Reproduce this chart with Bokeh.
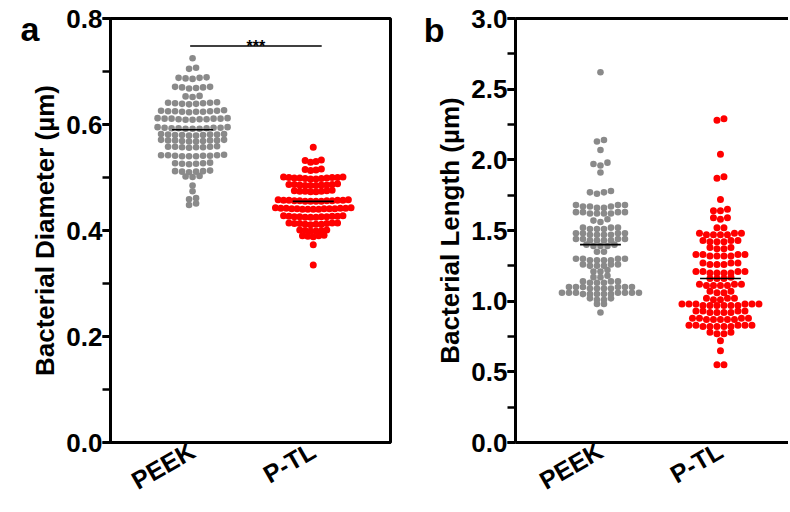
import math
from bokeh.plotting import figure
from bokeh.models import (Range1d, SingleIntervalTicker, FixedTicker, LinearAxis,
                          NumeralTickFormatter, CustomJSTickFormatter)
from bokeh.layouts import row
from bokeh.embed import file_html
from bokeh.resources import INLINE
from bokeh.core.properties import value

# ---------------- data ----------------
categories = ["PEEK", "P-TL"]
cat_pos = [1, 2]
panel_letters = ["a", "b"]

dia_peek = [
    0.725,
    0.707, 0.705,
    0.689, 0.688, 0.687, 0.686, 0.688,
    0.671, 0.670, 0.669, 0.670, 0.668, 0.671,
    0.654, 0.653, 0.652,
    0.641, 0.640, 0.639, 0.640, 0.641, 0.639, 0.638, 0.642,
    0.626, 0.625, 0.624, 0.625, 0.624, 0.626, 0.623, 0.625, 0.627, 0.624,
    0.611, 0.610, 0.611, 0.609, 0.612, 0.610, 0.611, 0.609, 0.612, 0.610, 0.611,
    0.594, 0.593, 0.592, 0.594, 0.592, 0.595, 0.593, 0.594, 0.592, 0.595, 0.593,
    0.581, 0.580, 0.581, 0.579, 0.582, 0.580, 0.581, 0.579, 0.582, 0.580,
    0.570, 0.569, 0.570, 0.571, 0.568, 0.570, 0.569, 0.571, 0.568, 0.570,
    0.558, 0.557, 0.558, 0.556, 0.559, 0.557, 0.558, 0.557,
    0.542, 0.541, 0.540, 0.542, 0.540, 0.543, 0.541, 0.542, 0.540, 0.541,
    0.527, 0.526, 0.525, 0.527, 0.526, 0.528,
    0.512, 0.511, 0.510, 0.512, 0.511, 0.513,
    0.502, 0.501, 0.503,
    0.485, 0.474, 0.461, 0.459, 0.451, 0.448,
]

dia_ptl = [
    0.557,
    0.532, 0.530, 0.529, 0.533,
    0.516, 0.514, 0.513, 0.515,
    0.500, 0.499, 0.498, 0.501, 0.499, 0.497, 0.500, 0.498, 0.499, 0.500, 0.501, 0.497,
    0.487, 0.486, 0.485, 0.487, 0.486, 0.485, 0.488, 0.486, 0.487, 0.485,
    0.475, 0.474, 0.473, 0.475, 0.474, 0.476, 0.473, 0.474,
    0.457, 0.456, 0.455, 0.457, 0.456, 0.455, 0.458, 0.456, 0.457, 0.455, 0.456, 0.457, 0.455, 0.458,
    0.442, 0.441, 0.440, 0.442, 0.441, 0.440, 0.443, 0.441, 0.442, 0.440, 0.441, 0.443, 0.440, 0.442, 0.441,
    0.427, 0.426, 0.425, 0.427, 0.426, 0.428, 0.425, 0.426, 0.427, 0.425, 0.426, 0.428,
    0.413, 0.412, 0.414, 0.413, 0.412, 0.414, 0.413, 0.411, 0.414, 0.412,
    0.400, 0.399, 0.401, 0.400, 0.399, 0.401,
    0.390, 0.389, 0.391, 0.390, 0.388,
    0.373, 0.335,
]

len_peek = [
    2.62,
    2.14, 2.13,
    2.07,
    1.97, 1.96, 1.98,
    1.91,
    1.78, 1.77, 1.76, 1.77,
    1.68, 1.67, 1.66, 1.67, 1.68, 1.66, 1.67, 1.68,
    1.63, 1.62, 1.63, 1.62, 1.63, 1.62, 1.63, 1.62,
    1.57, 1.58, 1.56,
    1.52, 1.51, 1.52, 1.51, 1.52, 1.51,
    1.47, 1.48, 1.47, 1.48, 1.47, 1.48, 1.47, 1.48,
    1.43, 1.44, 1.43, 1.44, 1.43, 1.44, 1.43, 1.44,
    1.39, 1.40, 1.39, 1.40, 1.39,
    1.35, 1.35,
    1.30, 1.29, 1.30, 1.29, 1.30, 1.29, 1.30, 1.29,
    1.26, 1.25, 1.26, 1.25, 1.26, 1.25,
    1.21, 1.22, 1.21,
    1.17, 1.18, 1.17,
    1.13, 1.14, 1.13, 1.14, 1.13, 1.14,
    1.10, 1.09, 1.10, 1.09, 1.10, 1.09, 1.10, 1.09, 1.10, 1.10,
    1.06, 1.05, 1.06, 1.05, 1.06, 1.05, 1.06, 1.05, 1.06, 1.06, 1.05, 1.06,
    1.02, 1.01, 1.02, 1.01,
    0.98, 0.98,
    0.92,
]

len_ptl = [
    2.29, 2.28,
    2.04,
    1.88, 1.87,
    1.72,
    1.65, 1.64, 1.64,
    1.59, 1.58, 1.59,
    1.52, 1.52,
    1.47, 1.48, 1.47, 1.48, 1.47, 1.48, 1.47,
    1.42, 1.43, 1.42, 1.43, 1.42, 1.43,
    1.37, 1.38, 1.37, 1.38,
    1.32, 1.33, 1.32, 1.33, 1.32, 1.33, 1.32, 1.33,
    1.26, 1.27, 1.26, 1.27, 1.26, 1.27,
    1.20, 1.21, 1.20, 1.21, 1.20, 1.21, 1.20, 1.21,
    1.16, 1.16, 1.17, 1.16,
    1.11, 1.12, 1.11, 1.12, 1.11, 1.12, 1.11,
    1.06, 1.07, 1.06, 1.07,
    1.02, 1.02, 1.01, 1.02, 1.01,
    0.97, 0.98, 0.97, 0.98, 0.97, 0.98, 0.97, 0.98, 0.97, 0.98, 0.97, 0.98,
    0.92, 0.93, 0.92, 0.93, 0.92, 0.93, 0.92, 0.93,
    0.87, 0.88, 0.87, 0.88, 0.87, 0.88, 0.87, 0.88, 0.87,
    0.82, 0.83, 0.82, 0.83, 0.82, 0.83, 0.82, 0.83, 0.82, 0.83,
    0.77, 0.78, 0.77, 0.78,
    0.72,
    0.65,
    0.55, 0.55,
]

dia_means = [0.59, 0.455]
len_means = [1.40, 1.16]
sig_text = "***"
sig_y = 0.748
sig_x = [0.98, 2.07]

FONT = "Liberation Sans"
GRAY = "#8a8a8a"
RED = "#ff0000"
H = 510
TOP = 18
BOTTOM = 68


def row_swarm(vals, gap, spacing):
    """Prism-like column scatter: values that lie within `gap` of each other
    form one row; each row is laid out side by side, centre-out.
    Returns x offsets in pixels."""
    order = sorted(range(len(vals)), key=lambda i: vals[i])
    rows, cur = [], [order[0]]
    for a, b in zip(order, order[1:]):
        if vals[b] - vals[a] > gap:
            rows.append(cur)
            cur = []
        cur.append(b)
    rows.append(cur)
    xs = [0.0] * len(vals)
    for idx in rows:
        n = len(idx)
        slots = [(k - (n - 1) / 2.0) * spacing for k in range(n)]
        slots.sort(key=lambda s: (abs(s), s))
        for i, s in zip(idx, slots):
            xs[i] = s
    return xs


def make_panel(width, border_left, border_right, xr, yr, interval, ylabel,
               groups, gap, means, letter, letter_y, closed):
    p = figure(width=width, height=H, x_range=Range1d(*xr), y_range=Range1d(*yr),
               output_backend="svg", toolbar_location=None,
               min_border_left=border_left, min_border_right=border_right,
               min_border_top=TOP, min_border_bottom=BOTTOM)
    frame_w = width - border_left - border_right
    sx = frame_w / (xr[1] - xr[0])

    for pos, (vals, color, spacing, size) in zip(cat_pos, groups):
        offs = row_swarm(vals, gap, spacing)
        xs = [pos + o / sx for o in offs]
        p.scatter(xs, vals, size=size, fill_color=color, line_color=None)

    p.segment(x0=[c - 0.17 for c in cat_pos], x1=[c + 0.17 for c in cat_pos],
              y0=means, y1=means, line_color="black", line_width=1.6)

    p.xgrid.visible = False
    p.ygrid.visible = False
    p.background_fill_color = "white"
    p.border_fill_color = "white"

    ya = p.left[0]
    ya.ticker = SingleIntervalTicker(interval=interval, num_minor_ticks=2)
    ya.formatter = NumeralTickFormatter(format="0.0")
    ya.axis_label = ylabel
    ya.axis_label_text_font = FONT
    ya.axis_label_text_font_style = "bold"
    ya.axis_label_text_font_size = "26px"
    ya.axis_label_text_color = "black"
    ya.axis_label_standoff = 3
    ya.major_label_text_font = FONT
    ya.major_label_text_font_style = "bold"
    ya.major_label_text_font_size = "26px"
    ya.major_label_text_color = "black"
    ya.major_label_standoff = 0
    ya.axis_line_color = "black"
    ya.axis_line_width = 3
    ya.major_tick_line_color = "black"
    ya.minor_tick_line_color = "black"
    ya.major_tick_line_width = 3
    ya.minor_tick_line_width = 2.5
    ya.major_tick_out = 8
    ya.major_tick_in = 0
    ya.minor_tick_out = 8
    ya.minor_tick_in = 0

    xa = p.below[0]
    xa.ticker = FixedTicker(ticks=cat_pos)
    xa.major_label_overrides = {c: n for c, n in zip(cat_pos, categories)}
    xa.major_label_orientation = math.radians(30)
    xa.major_label_text_font = FONT
    xa.major_label_text_font_style = "bold"
    xa.major_label_text_font_size = "25px"
    xa.major_label_text_color = "black"
    xa.major_label_standoff = 6
    xa.axis_line_color = "black"
    xa.axis_line_width = 3
    xa.major_tick_line_color = None
    xa.minor_tick_line_color = None
    xa.major_tick_out = 0
    xa.major_tick_in = 0

    if closed:
        p.outline_line_color = "black"
        p.outline_line_width = 3
        p.outline_line_alpha = 1.0
    else:
        p.outline_line_color = None
        top = LinearAxis(ticker=FixedTicker(ticks=[]), axis_line_width=3,
                         axis_line_color="black",
                         major_tick_line_color=None, minor_tick_line_color=None,
                         major_tick_out=0, major_tick_in=0,
                         major_label_text_font_size="0px", major_label_standoff=0)
        p.add_layout(top, "above")

    # panel letter, drawn as the single label of an extra outer left axis
    la = LinearAxis(ticker=FixedTicker(ticks=[letter_y]),
                    formatter=CustomJSTickFormatter(code="return '%s'" % letter),
                    axis_line_color=None, major_tick_line_color=None,
                    minor_tick_line_color=None, major_tick_out=0, major_tick_in=0,
                    minor_tick_out=0, minor_tick_in=0, major_label_standoff=-12,
                    major_label_orientation="horizontal",
                    major_label_text_font=FONT, major_label_text_font_style="bold",
                    major_label_text_font_size="34px", major_label_text_color="black")
    p.add_layout(la, "left")
    return p


pa = make_panel(400, 110, 10, (0.32, 2.64), (0, 0.8), 0.2, "Bacterial Diameter (µm)",
                [(dia_peek, GRAY, 7.0, 6.6), (dia_ptl, RED, 5.4, 7.0)], 0.005,
                dia_means, panel_letters[0], 0.781, True)
pa.line(sig_x, [sig_y, sig_y], line_color="black", line_width=1.6)
pa.text(x=[sum(sig_x) / 2], y=[sig_y], text=[sig_text], text_align="center",
        text_baseline="alphabetic", text_font=value(FONT), text_font_style="bold",
        text_font_size="16px", y_offset=0, text_color="black")

pb = make_panel(388, 115, 0, (0.292, 2.567), (0, 3.0), 0.5, "Bacterial Length (µm)",
                [(len_peek, GRAY, 7.0, 6.6), (len_ptl, RED, 7.0, 7.0)], 0.015,
                len_means, panel_letters[1], 2.92, False)

layout = row(pa, pb)
open("out.html", "w").write(file_html(layout, INLINE))
